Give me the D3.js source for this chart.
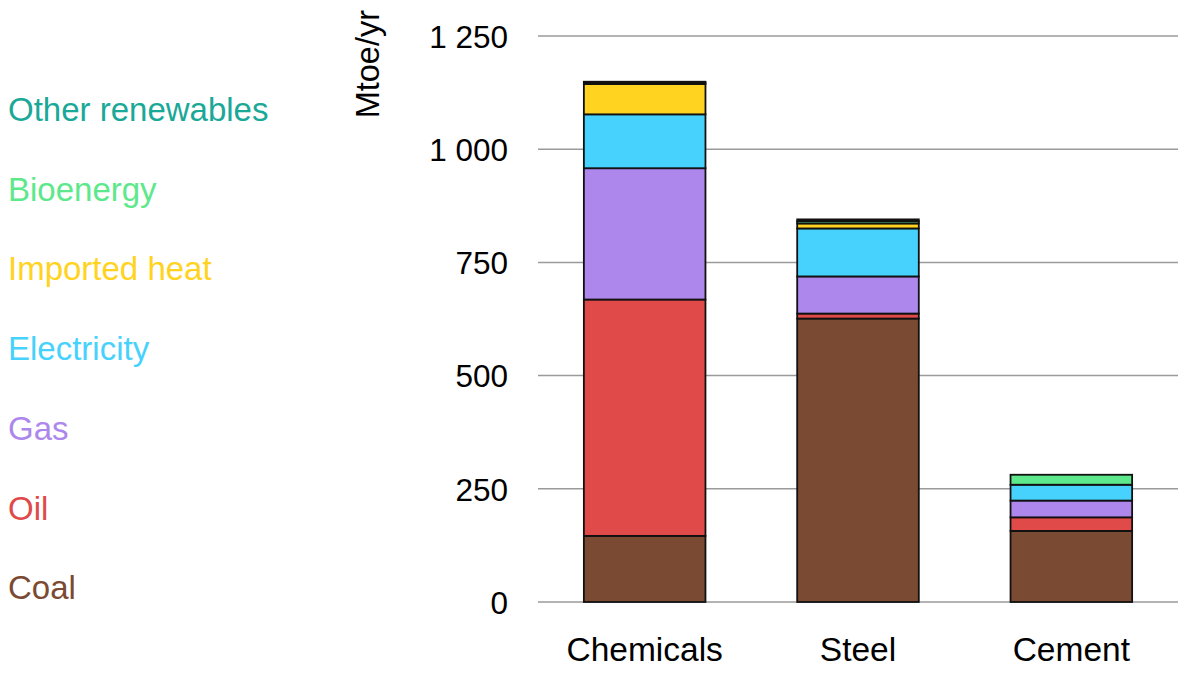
<!DOCTYPE html>
<html>
<head>
<meta charset="utf-8">
<script src="https://cdn.jsdelivr.net/npm/d3@7"></script>
<style>
  html, body { margin: 0; padding: 0; background: #fff; }
  svg { display: block; font-family: "Liberation Sans", Arial, Helvetica, sans-serif; }
</style>
</head>
<body>
<svg id="chart" width="1184" height="674"></svg>
<script>
// ---- data ----
const categories = ["Chemicals", "Steel", "Cement"];
const seriesNames = ["Coal", "Oil", "Gas", "Electricity", "Imported heat", "Bioenergy", "Other renewables"];
const seriesColors = ["#7b4a32", "#e04a48", "#ad87ec", "#47d2fd", "#ffd320", "#5de88b", "#1aa898"];
const coal = [146, 626, 157];
const oil = [522, 11, 30];
const gas = [290, 82, 37];
const electricity = [119, 106, 35];
const importedHeat = [67, 11, 0];
const bioenergy = [3, 5, 22];
const otherRenewables = [2, 4, 0];
const yTicks = [0, 250, 500, 750, 1000, 1250];
const yLabel = "Mtoe/yr";

const seriesValues = [coal, oil, gas, electricity, importedHeat, bioenergy, otherRenewables];

// ---- build table ----
const table = categories.map((c, i) => {
  const row = { category: c };
  seriesNames.forEach((s, j) => { row[s] = seriesValues[j][i]; });
  return row;
});
const stacked = d3.stack().keys(seriesNames)(table);

const svg = d3.select("#chart");
const x = d3.scaleBand().domain(categories).range([538, 1178]).paddingInner(0.43).paddingOuter(0.215);
const y = d3.scaleLinear().domain([0, 1250]).range([602, 36]);

const loc = d3.formatLocale({ decimal: ".", thousands: "\u00a0", grouping: [3], currency: ["", ""] });
const fmt = loc.format(",d");

// gridlines
svg.append("g")
  .selectAll("line")
  .data(yTicks)
  .join("line")
  .attr("x1", 538).attr("x2", 1178)
  .attr("y1", d => y(d)).attr("y2", d => y(d))
  .attr("stroke", "#9a9a9a").attr("stroke-width", 1.5);

// y axis labels
const yAxis = d3.axisLeft(y).tickValues(yTicks).tickFormat(fmt).tickSize(0).tickPadding(0);
const gy = svg.append("g").attr("transform", "translate(508,0)").call(yAxis);
gy.select(".domain").remove();
gy.selectAll("text")
  .attr("font-size", 31.5)
  .attr("fill", "#000")
  .attr("font-family", "'Liberation Sans', Arial, sans-serif")
  .attr("dy", "0.36em");

// y label
svg.append("text")
  .attr("transform", "translate(379,10) rotate(-90)")
  .attr("text-anchor", "end")
  .attr("font-size", 32.5)
  .attr("fill", "#000")
  .text(yLabel);

// bars
svg.append("g")
  .selectAll("g")
  .data(stacked)
  .join("g")
  .attr("fill", (d, i) => seriesColors[i])
  .selectAll("rect")
  .data(d => d)
  .join("rect")
  .attr("x", d => x(d.data.category))
  .attr("width", x.bandwidth())
  .attr("y", d => y(d[1]))
  .attr("height", d => Math.max(0, y(d[0]) - y(d[1])))
  .attr("stroke", d => (d[1] - d[0]) > 0 ? "#111" : "none")
  .attr("stroke-width", 1.8);

// x axis labels
const xAxis = d3.axisBottom(x).tickSize(0).tickPadding(0);
const gx = svg.append("g").attr("transform", "translate(0,661)").call(xAxis);
gx.select(".domain").remove();
gx.selectAll("text")
  .attr("font-size", 33.5)
  .attr("fill", "#000")
  .attr("font-family", "'Liberation Sans', Arial, sans-serif")
  .attr("dy", 0);

// legend (top to bottom: reverse of stack order)
const legendOrder = seriesNames.map((s, i) => ({ name: s, color: seriesColors[i] })).reverse();
svg.append("g")
  .selectAll("text")
  .data(legendOrder)
  .join("text")
  .attr("x", 8)
  .attr("y", (d, i) => 121 + i * 79.7)
  .attr("font-size", 33)
  .attr("fill", d => d.color)
  .text(d => d.name);
</script>
</body>
</html>
